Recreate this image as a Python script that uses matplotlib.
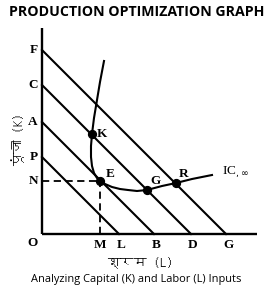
import matplotlib
matplotlib.use("Agg")
from matplotlib import pyplot as plt
from matplotlib import font_manager
from matplotlib.ft2font import FT2Font


# intercepts of the four iso-cost lines (same on both axes)
cost_names_k = ['P', 'A', 'C', 'F']
cost_names_l = ['L', 'B', 'D', 'G']
cost_levels = [77, 112, 149, 184]

# isoquant / expansion curve
curve_l = [62, 58, 55, 52, 50, 49, 49, 50, 52, 55, 58, 63, 70, 78, 86, 95, 105, 120, 134, 150, 170]
curve_k = [173, 152, 134, 116, 100, 88, 77, 68, 61, 56, 53, 50, 47, 45, 44, 43, 44, 48, 51, 55, 59]

# marked points
pt_names = ['K', 'E', 'G', 'R']
pt_l = [50, 58, 105, 134]
pt_k = [100, 53, 44, 51]

title = 'PRODUCTION OPTIMIZATION GRAPH'
caption = 'Analyzing Capital (K) and Labor (L) Inputs'
ylab = 'पूंजी (K)'
xlab = 'श्रम (L)'


def find_family(ch):
    for f in font_manager.fontManager.ttflist:
        try:
            if ord(ch) in FT2Font(f.fname).get_charmap():
                return f.name
        except Exception:
            pass
    return None


deva = find_family('प')
hindi_fam = ([deva] if deva else []) + ['DejaVu Sans']

serif = 'Liberation Serif'
fs = 9.5

fig = plt.figure(figsize=(2.73, 3.0), dpi=100)
ax = fig.add_axes([0, 0, 1, 1])
ax.set_xlim(-42, 231)
ax.set_ylim(-66, 234)
ax.axis('off')

# axes
ax.plot([0, 0], [0, 206], color='black', lw=1.7, solid_capstyle='butt')
ax.plot([0, 215], [0, 0], color='black', lw=1.7, solid_capstyle='butt')

for lev, nk, nl in zip(cost_levels, cost_names_k, cost_names_l):
    ax.plot([0, lev], [lev, 0], color='black', lw=1.5)
    ax.text(-4, lev, nk, ha='right', va='center', fontsize=fs, family=serif, fontweight='bold')
    ax.text(lev + 2, -5, nl, ha='center', va='top', fontsize=fs, family=serif, fontweight='bold')

ax.plot(curve_l, curve_k, color='black', lw=1.5)

# dashed guides to E
ax.plot([0, pt_l[1]], [pt_k[1], pt_k[1]], color='black', lw=1.3, ls=(0, (4, 2.5)))
ax.plot([pt_l[1], pt_l[1]], [0, pt_k[1]], color='black', lw=1.3, ls=(0, (4, 2.5)))
ax.text(-4, pt_k[1], 'N', ha='right', va='center', fontsize=fs, family=serif, fontweight='bold')
ax.text(pt_l[1], -5, 'M', ha='center', va='top', fontsize=fs, family=serif, fontweight='bold')
ax.text(-4, -3, 'O', ha='right', va='top', fontsize=fs, family=serif, fontweight='bold')

ax.scatter(pt_l, pt_k, s=32, color='black', zorder=5)
offsets = [(5, 0, 'left', 'center'), (6, 1, 'left', 'bottom'),
           (3, 3, 'left', 'bottom'), (3, 3, 'left', 'bottom')]
for n, x, y, (dx, dy, ha, va) in zip(pt_names, pt_l, pt_k, offsets):
    ax.text(x + dx, y + dy, n, ha=ha, va=va, fontsize=fs, family=serif, fontweight='bold')

ax.text(curve_l[-1] + 10, curve_k[-1] + 3, r'IC$_{,\infty}$', ha='left', va='center',
        fontsize=fs, family=serif)

ax.text(-24, 95, ylab, rotation=90, ha='center', va='center', fontsize=9.5,
        family=hindi_fam, fontweight='bold')
ax.text(98, -28, xlab, ha='center', va='center', fontsize=9.5,
        family=hindi_fam, fontweight='bold')

fig.text(0.5, 0.96, title, ha='center', va='center', fontsize=10.2,
         family='Open Sans', fontweight='bold')
fig.text(0.5, 0.067, caption, ha='center', va='center', fontsize=7.9,
         family='Open Sans')

fig.savefig('out.png', dpi=100)
